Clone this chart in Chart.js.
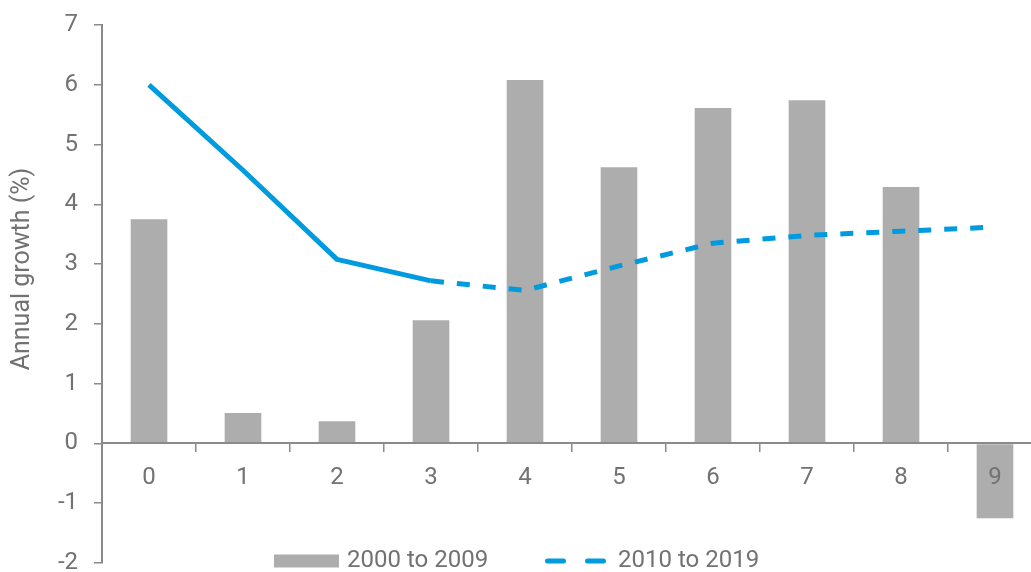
<!DOCTYPE html>
<html>
<head>
<meta charset="utf-8">
<script src="https://cdn.jsdelivr.net/npm/chart.js@4/dist/chart.umd.min.js"></script>
<style>
  html, body { margin: 0; padding: 0; background: #fff; overflow: hidden; }
  #wrap { width: 1031px; height: 572px; overflow: hidden; position: relative; }
  #c { position: absolute; left: 0; top: 0; }
</style>
</head>
<body>
<div id="wrap"><canvas id="c" width="1042" height="572"></canvas></div>
<script>
// Categories and series
const categories = ['0', '1', '2', '3', '4', '5', '6', '7', '8', '9'];
const growth2000s = [3.75, 0.51, 0.37, 2.06, 6.08, 4.62, 5.61, 5.74, 4.29, -1.25];
const growth2010s = [6.0, 4.57, 3.08, 2.72, 2.56, 2.97, 3.35, 3.48, 3.55, 3.62];
const yTickValues = [-2, -1, 0, 1, 2, 3, 4, 5, 6, 7];
const seriesNames = ['2000 to 2009', '2010 to 2019'];
const yTitle = 'Annual growth (%)';
// first index from which the 2010s line is drawn dashed
const dashFrom = 3;

const TEXT = '#727272';
const AXIS = '#8a8a8a';
const BAR = '#adadad';
const LINE = '#009bdf';
const FONT_FAMILY = 'Roboto, "Open Sans", sans-serif';
const FONT = { family: FONT_FAMILY, size: 24, weight: 400 };

// Y title and legend drawn on the canvas
const annotations = {
  id: 'annotations',
  afterDraw(chart) {
    const ctx = chart.ctx;
    ctx.save();
    ctx.fillStyle = TEXT;
    ctx.font = '400 25px ' + FONT_FAMILY;

    // rotated axis title
    ctx.save();
    ctx.translate(23, 269);
    ctx.rotate(-Math.PI / 2);
    ctx.textAlign = 'center';
    ctx.textBaseline = 'middle';
    ctx.fillText(yTitle, 0, 0);
    ctx.restore();

    // legend
    ctx.font = '400 24px ' + FONT_FAMILY;
    const midY = 561;
    const barDs = chart.data.datasets[0];
    const lineDs = chart.data.datasets[1];
    ctx.fillStyle = barDs.backgroundColor;
    ctx.fillRect(274, midY - 6.5, 65, 13);
    ctx.fillStyle = TEXT;
    ctx.textAlign = 'left';
    ctx.textBaseline = 'middle';
    ctx.fillText(seriesNames[0], 347, midY);

    ctx.strokeStyle = lineDs.borderColor;
    ctx.lineWidth = 5;
    ctx.lineCap = 'round';
    ctx.setLineDash([16, 24]);
    ctx.beginPath();
    ctx.moveTo(547.5, midY);
    ctx.lineTo(603.5, midY);
    ctx.stroke();
    ctx.setLineDash([]);
    ctx.fillText(seriesNames[1], 618, midY);
    ctx.restore();
  }
};

new Chart(document.getElementById('c'), {
  data: {
    labels: categories,
    datasets: [
      {
        type: 'bar',
        label: seriesNames[0],
        data: growth2000s,
        backgroundColor: BAR,
        borderWidth: 0,
        categoryPercentage: 1,
        barPercentage: 0.39,
        order: 2
      },
      {
        type: 'line',
        label: seriesNames[1],
        data: growth2010s,
        borderColor: LINE,
        backgroundColor: LINE,
        borderWidth: 5,
        pointRadius: 0,
        tension: 0,
        fill: false,
        borderCapStyle: 'butt',
        borderJoinStyle: 'round',
        segment: {
          borderDash: c => (c.p0DataIndex >= dashFrom ? [13, 13] : undefined)
        },
        order: 1
      }
    ]
  },
  options: {
    responsive: false,
    devicePixelRatio: 1,
    animation: false,
    layout: { padding: { top: 25, bottom: 9, left: 0, right: 0 } },
    plugins: {
      legend: { display: false },
      tooltip: { enabled: false }
    },
    scales: {
      x: {
        type: 'category',
        position: { y: 0 },
        offset: true,
        grid: {
          display: true,
          drawOnChartArea: false,
          drawTicks: true,
          tickLength: 8,
          offset: true,
          color: AXIS,
          lineWidth: 1.5
        },
        border: { display: true, color: AXIS, width: 2, z: 1 },
        ticks: { color: TEXT, font: FONT, padding: 12, maxRotation: 0, autoSkip: false, z: 1 },
        afterFit(s) { s.height = 0; s.paddingLeft = 0; s.paddingRight = 0; }
      },
      y: {
        min: -2,
        max: 7,
        grid: {
          display: true,
          drawOnChartArea: false,
          drawTicks: true,
          tickLength: 8,
          color: AXIS,
          lineWidth: 1.5
        },
        border: { display: true, color: AXIS, width: 2 },
        ticks: { color: TEXT, font: FONT, padding: 16 },
        afterBuildTicks(s) { s.ticks = yTickValues.map(v => ({ value: v })); },
        afterFit(s) { s.width = 102; s.paddingTop = 0; s.paddingBottom = 0; }
      }
    }
  },
  plugins: [annotations]
});
</script>
</body>
</html>
